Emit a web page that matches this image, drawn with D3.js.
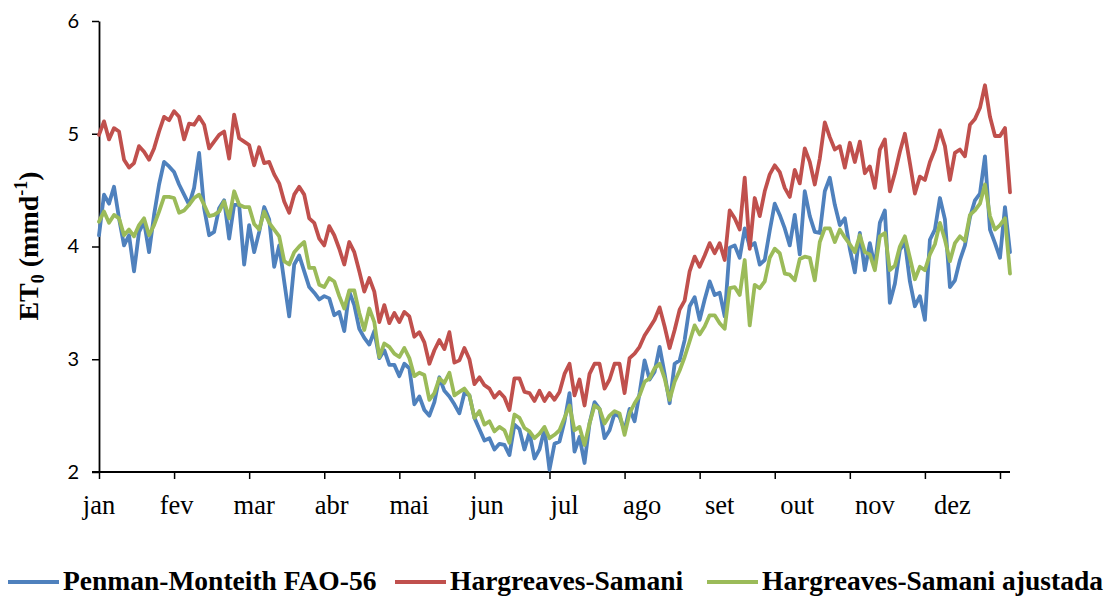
<!doctype html>
<html>
<head>
<meta charset="UTF-8">
<title>ET0</title>
<script src="https://d3js.org/d3.v7.min.js"></script>
<style>
    body{ margin:0; background:#fff; }
</style>
</head>
<body>
<svg id="chart" width="1116" height="596"></svg>
<script>
// month labels and the series (one value every 2 days, day 0..364)
var months = ["jan","fev","mar","abr","mai","jun","jul","ago","set","out","nov","dez"];
var yTicks = [2,3,4,5,6];
var seriesNames = ["Penman-Monteith FAO-56","Hargreaves-Samani","Hargreaves-Samani ajustada"];

var pm = [4.10,4.46,4.38,4.53,4.25,4.01,4.10,3.78,4.13,4.22,3.95,4.28,4.55,4.75,4.71,4.66,4.55,4.46,4.37,4.52,
4.83,4.34,4.10,4.13,4.34,4.41,4.07,4.37,4.37,3.84,4.19,3.95,4.13,4.35,4.24,3.82,4.01,3.69,3.38,3.84,
3.92,3.78,3.64,3.59,3.53,3.56,3.54,3.39,3.42,3.25,3.60,3.48,3.27,3.19,3.13,3.25,3.01,3.08,2.95,2.95,
2.85,2.96,2.92,2.60,2.67,2.55,2.50,2.62,2.84,2.72,2.67,2.60,2.52,2.70,2.68,2.48,2.38,2.28,2.30,2.20,
2.25,2.24,2.15,2.42,2.38,2.20,2.35,2.12,2.20,2.38,2.02,2.25,2.27,2.45,2.70,2.18,2.31,2.08,2.43,2.62,
2.56,2.30,2.37,2.52,2.49,2.37,2.56,2.45,2.70,2.99,2.82,2.89,3.11,2.87,2.61,2.96,2.99,3.17,3.47,3.55,
3.35,3.53,3.69,3.57,3.59,3.38,3.99,4.01,3.90,4.16,4.00,4.03,3.84,3.88,4.14,4.38,4.28,4.16,4.01,4.28,
3.93,4.49,4.27,4.13,4.12,4.49,4.61,4.37,4.19,4.25,3.98,3.77,4.12,3.79,4.03,3.82,4.21,4.32,3.50,3.67,
3.97,4.04,3.69,3.47,3.56,3.35,4.06,4.15,4.43,4.24,3.64,3.70,3.88,4.01,4.26,4.41,4.47,4.80,4.15,4.03,
3.90,4.35,3.95];

var hs = [4.99,5.11,4.95,5.05,5.02,4.77,4.70,4.74,4.89,4.84,4.77,4.87,5.02,5.15,5.12,5.20,5.15,4.95,5.09,5.08,
5.15,5.08,4.87,4.93,4.99,5.02,4.78,5.17,4.96,4.93,4.90,4.72,4.88,4.74,4.75,4.64,4.56,4.40,4.30,4.46,
4.53,4.46,4.25,4.21,4.07,4.01,4.18,4.10,3.98,3.84,4.04,3.95,3.78,3.60,3.72,3.60,3.33,3.48,3.32,3.41,
3.33,3.42,3.38,3.20,3.24,3.15,2.96,3.08,3.17,3.09,3.24,2.97,2.99,3.10,3.00,2.78,2.84,2.77,2.74,2.66,
2.71,2.66,2.55,2.83,2.83,2.71,2.70,2.63,2.72,2.63,2.70,2.64,2.71,2.87,2.96,2.68,2.82,2.59,2.87,2.96,
2.96,2.74,2.82,2.96,2.96,2.70,3.01,3.05,3.11,3.21,3.28,3.35,3.46,3.29,3.10,3.26,3.44,3.52,3.78,3.91,
3.82,3.92,4.03,3.94,4.03,3.88,4.32,4.25,4.15,4.61,3.98,4.43,4.27,4.49,4.64,4.72,4.66,4.52,4.44,4.68,
4.56,4.87,4.75,4.55,4.78,5.10,4.97,4.86,4.89,4.70,4.92,4.75,4.93,4.65,4.71,4.52,4.86,4.95,4.49,4.65,
4.84,5.00,4.74,4.47,4.62,4.59,4.75,4.86,5.03,4.89,4.59,4.83,4.86,4.80,5.08,5.13,5.23,5.43,5.15,4.98,
4.98,5.05,4.48];

var hsa = [4.22,4.31,4.21,4.28,4.25,4.10,4.15,4.09,4.19,4.25,4.10,4.19,4.31,4.44,4.44,4.43,4.30,4.32,4.37,4.43,
4.46,4.37,4.27,4.28,4.31,4.40,4.25,4.49,4.37,4.35,4.35,4.20,4.15,4.31,4.21,4.15,4.09,3.87,3.84,3.95,
4.00,4.04,3.81,3.81,3.66,3.64,3.72,3.69,3.56,3.45,3.61,3.61,3.41,3.26,3.45,3.33,3.02,3.14,3.11,3.05,
3.02,3.10,3.01,2.85,2.88,2.86,2.64,2.70,2.83,2.79,2.88,2.68,2.71,2.74,2.68,2.48,2.54,2.42,2.45,2.36,
2.40,2.37,2.26,2.51,2.48,2.39,2.36,2.30,2.34,2.40,2.30,2.33,2.37,2.48,2.59,2.37,2.40,2.24,2.43,2.59,
2.56,2.43,2.50,2.54,2.52,2.33,2.52,2.61,2.68,2.80,2.83,2.92,2.96,2.83,2.64,2.80,2.90,3.02,3.16,3.30,
3.22,3.29,3.39,3.39,3.32,3.27,3.63,3.64,3.57,3.88,3.30,3.66,3.63,3.69,3.90,3.98,3.94,3.76,3.75,3.70,
3.89,3.91,3.90,3.70,4.04,4.16,4.16,4.04,4.15,4.08,4.02,3.95,4.10,3.95,3.93,3.79,4.09,4.12,3.79,3.83,
4.00,4.09,3.90,3.71,3.82,3.79,3.93,4.02,4.21,4.06,3.87,4.03,4.09,4.05,4.28,4.32,4.38,4.55,4.27,4.15,
4.19,4.25,3.76];

var colors = ["#4F81BD","#C0504D","#9BBB59"];
var step = 2;   // days between values

var svg = d3.select("#chart");

var x = d3.scaleLinear().domain([0, 364]).range([99, 1010]);
var y = d3.scaleLinear().domain([2, 6]).range([472, 21]);

// x axis: ticks every 30 days, month names placed separately
var xAxis = d3.axisBottom(x)
    .tickValues(d3.range(0, 361, 30))
    .tickFormat("")
    .tickSize(7)
    .tickSizeOuter(0);
var gx = svg.append("g").attr("transform", "translate(0," + y(2) + ")").call(xAxis);
gx.select(".domain").attr("d", "M92,0H1010").attr("stroke", "#000").attr("stroke-width", 1.8);
gx.selectAll(".tick line").attr("stroke", "#000").attr("stroke-width", 1.5);

svg.append("g").selectAll("text")
    .data(months)
    .enter()
    .append("text")
    .attr("x", function(d, i){ return x(i * 31); })
    .attr("y", 514)
    .attr("text-anchor", "middle")
    .attr("font-family", "'Liberation Serif', 'Times New Roman', serif")
    .attr("font-size", 26.5)
    .text(function(d){ return d; });

// y axis
var yAxis = d3.axisLeft(y)
    .tickValues(yTicks)
    .tickFormat(d3.format("d"))
    .tickSize(7)
    .tickSizeOuter(0)
    .tickPadding(13);
var gy = svg.append("g").attr("transform", "translate(" + x(0) + ",0)").call(yAxis);
gy.select(".domain").attr("stroke", "#000").attr("stroke-width", 1.8);
gy.selectAll(".tick line").attr("stroke", "#000").attr("stroke-width", 1.5);
gy.selectAll(".tick text")
    .attr("font-family", "Lato, 'Open Sans', sans-serif")
    .attr("font-size", 20)
    .attr("fill", "#000");

// y title
var title = svg.append("text")
    .attr("transform", "translate(38,246) rotate(-90)")
    .attr("text-anchor", "middle")
    .attr("font-family", "'Liberation Serif', 'Times New Roman', serif")
    .attr("font-weight", "bold")
    .attr("font-size", 28);
title.append("tspan").text("ET");
title.append("tspan").attr("font-size", 18).attr("dy", 6).text("0");
title.append("tspan").attr("dy", -6).text(" (mmd");
title.append("tspan").attr("font-size", 18).attr("dy", -11).text("-1");
title.append("tspan").attr("dy", 11).text(")");

// lines
var line = d3.line()
    .x(function(d, i){ return x(i * step); })
    .y(function(d){ return y(d); });

var all = [pm, hs, hsa];
svg.append("g").selectAll("path")
    .data(all)
    .enter()
    .append("path")
    .attr("d", function(d){ return line(d); })
    .attr("fill", "none")
    .attr("stroke", function(d, i){ return colors[i]; })
    .attr("stroke-width", 3.8)
    .attr("stroke-linejoin", "round")
    .attr("stroke-linecap", "round");

// legend
var legX = [8, 395, 707];
var leg = svg.append("g").selectAll("g")
    .data(seriesNames)
    .enter()
    .append("g")
    .attr("transform", function(d, i){ return "translate(" + legX[i] + ",0)"; });
leg.append("line")
    .attr("x1", 0).attr("x2", 51)
    .attr("y1", 582).attr("y2", 582)
    .attr("stroke", function(d, i){ return colors[i]; })
    .attr("stroke-width", 4);
leg.append("text")
    .attr("x", 55)
    .attr("y", 590)
    .attr("font-family", "'Liberation Serif', 'Times New Roman', serif")
    .attr("font-weight", "bold")
    .attr("font-size", 27.5)
    .text(function(d){ return d; });
</script>
</body>
</html>
